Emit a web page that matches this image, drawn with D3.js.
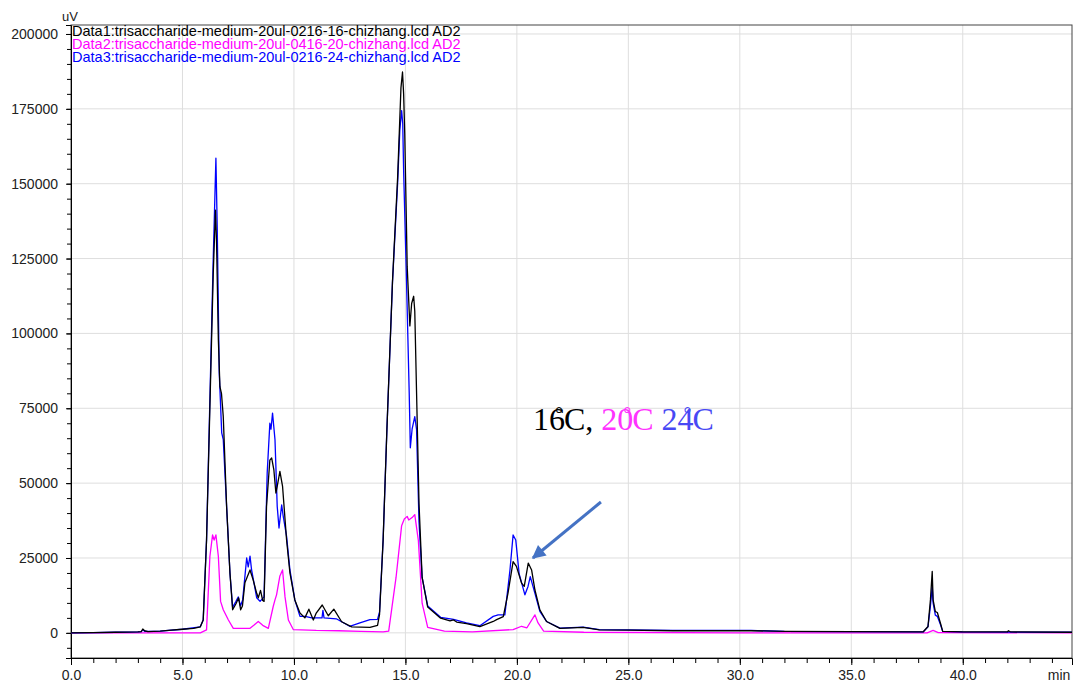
<!DOCTYPE html>
<html>
<head>
<meta charset="utf-8">
<script src="https://cdn.jsdelivr.net/npm/d3@7"></script>
<style>
  body { margin: 0; background: #fff; }
  svg { display: block; font-family: "Liberation Sans", Arial, sans-serif; }
</style>
</head>
<body>
<svg id="chromatogram"></svg>
<script>
// retention time (min) / signal (uV), one pair of arrays per run
var timeBlack = [0, 1.0, 2.0, 3.0, 3.15, 3.22, 3.3, 3.45, 4.0, 4.5, 5.0, 5.5, 5.8, 5.93, 6.08, 6.23, 6.38, 6.48, 6.53, 6.61, 6.68, 6.75, 6.83, 6.98, 7.13, 7.25, 7.4, 7.52, 7.61, 7.69, 7.8, 8.03, 8.17, 8.33, 8.4, 8.5, 8.6, 8.66, 8.77, 8.92, 9.0, 9.1, 9.19, 9.25, 9.37, 9.49, 9.67, 9.82, 10.04, 10.27, 10.49, 10.67, 10.87, 11.0, 11.27, 11.54, 11.79, 12.14, 12.59, 13.41, 13.75, 13.84, 14.0, 14.17, 14.42, 14.65, 14.8, 14.87, 14.92, 14.97, 15.08, 15.2, 15.28, 15.37, 15.42, 15.5, 15.61, 15.75, 16.0, 16.58, 17.0, 17.16, 17.3, 17.74, 18.34, 18.94, 19.09, 19.39, 19.6, 19.83, 19.98, 20.21, 20.33, 20.51, 20.66, 20.81, 21.03, 21.33, 21.93, 22.97, 23.7, 25, 27, 30.5, 32, 35, 38.0, 38.22, 38.44, 38.55, 38.63, 38.67, 38.77, 38.86, 39.0, 39.1, 40, 42.0, 42.05, 42.15, 44.9];
var valBlack = [0, 100, 200, 300, 400, 1300, 700, 400, 600, 900, 1200, 1500, 2000, 4300, 31000, 75500, 120000, 141200, 130000, 97800, 82200, 79900, 72200, 42200, 20000, 7700, 9700, 11700, 7700, 9000, 16700, 21000, 17700, 13200, 11700, 14200, 10800, 10500, 42200, 57700, 58400, 54400, 46700, 48900, 53900, 48900, 31000, 20000, 11000, 6600, 5000, 7900, 4300, 6600, 9300, 5700, 7900, 3700, 2000, 1800, 2500, 6200, 30900, 67900, 117300, 152000, 182000, 187300, 180000, 166700, 122300, 102500, 110000, 112400, 107400, 80300, 43200, 18500, 8600, 4900, 4000, 4300, 3600, 3100, 2100, 3800, 4400, 5400, 13200, 23800, 22200, 16600, 15500, 23300, 21000, 14300, 7700, 3800, 1500, 1800, 1000, 900, 700, 700, 500, 400, 300, 300, 2100, 11000, 20500, 11000, 7100, 6800, 3200, 500, 300, 300, 700, 300, 200];

var timeMagenta = [0, 5.8, 6.08, 6.23, 6.35, 6.42, 6.5, 6.61, 6.71, 6.83, 7.06, 7.28, 8.03, 8.2, 8.4, 8.6, 8.85, 9.07, 9.15, 9.22, 9.37, 9.49, 9.6, 9.75, 9.97, 11, 12, 13, 14.0, 14.25, 14.58, 14.83, 14.95, 15.08, 15.15, 15.3, 15.42, 15.58, 15.75, 16.0, 16.75, 18, 19.83, 20.21, 20.45, 20.81, 20.95, 21.2, 23, 30, 38.4, 38.67, 38.9, 44.9];
var valMagenta = [0, 0, 1000, 25500, 32700, 31000, 32700, 25500, 10500, 7700, 4300, 1500, 1500, 2500, 3800, 2500, 1500, 8800, 11000, 12700, 19000, 21000, 12000, 4300, 1100, 800, 700, 500, 300, 600, 18500, 35800, 38000, 38900, 37700, 38500, 39500, 30900, 9900, 1850, 600, 300, 1100, 2200, 1700, 6000, 3300, 550, 200, 0, 0, 800, 100, 0];

var timeBlue = [0, 1.0, 2.0, 3.0, 3.15, 3.22, 3.3, 4.0, 5.0, 5.8, 5.93, 6.08, 6.23, 6.38, 6.5, 6.56, 6.65, 6.76, 6.83, 6.98, 7.13, 7.25, 7.4, 7.5, 7.6, 7.7, 7.88, 7.95, 8.03, 8.1, 8.33, 8.48, 8.6, 8.66, 8.8, 8.92, 8.97, 9.04, 9.15, 9.25, 9.33, 9.45, 9.52, 9.67, 9.82, 10.04, 10.27, 10.5, 10.8, 11.26, 11.3, 11.35, 11.9, 12.14, 12.5, 12.96, 13.41, 13.75, 13.84, 14.0, 14.17, 14.42, 14.65, 14.75, 14.83, 14.88, 14.92, 15.05, 15.17, 15.22, 15.3, 15.42, 15.5, 15.61, 15.75, 16.0, 16.58, 17.16, 17.74, 18.34, 18.94, 19.16, 19.46, 19.69, 19.83, 19.95, 20.1, 20.36, 20.5, 20.6, 20.81, 21.03, 21.33, 21.93, 22.97, 23.7, 25, 27, 30.5, 32, 35, 38.22, 38.44, 38.55, 38.63, 38.67, 38.77, 38.86, 39.0, 39.1, 40, 44.9];
var valBlue = [0, 100, 200, 300, 400, 1000, 500, 600, 1200, 2000, 4300, 31000, 78000, 125000, 158500, 135000, 86700, 66800, 64500, 42200, 20000, 8500, 10500, 12000, 9000, 11000, 25000, 22000, 25600, 21000, 11700, 10500, 11500, 12000, 53400, 70000, 68000, 73400, 64500, 42200, 35000, 42700, 38900, 32200, 21000, 11000, 5500, 5500, 5000, 5000, 7500, 5000, 4700, 3700, 2200, 3300, 4400, 4500, 7000, 31000, 68000, 117000, 150000, 168000, 174400, 170000, 154400, 117300, 80300, 61800, 68000, 72200, 67900, 37000, 18500, 9000, 5200, 4500, 3300, 2400, 5500, 6000, 6000, 21000, 32700, 31000, 19800, 12700, 15500, 18800, 13200, 7200, 3800, 1600, 1900, 1100, 1000, 800, 800, 500, 400, 300, 2000, 9000, 15500, 10000, 5900, 5500, 2800, 500, 300, 200];

var legendLabels = [
    "Data1:trisaccharide-medium-20ul-0216-16-chizhang.lcd AD2",
    "Data2:trisaccharide-medium-20ul-0416-20-chizhang.lcd AD2",
    "Data3:trisaccharide-medium-20ul-0216-24-chizhang.lcd AD2"
];
var yTicks = [0, 25000, 50000, 75000, 100000, 125000, 150000, 175000, 200000];
var xTicks = [0, 5, 10, 15, 20, 25, 30, 35, 40];

var size = {
    width: 1073,
    height: 684,
    top: 25,
    bottom: 26,
    left: 71,
    right: 1
};

var svg = d3.select("#chromatogram")
    .attr("width", size.width)
    .attr("height", size.height);

var x = d3.scaleLinear()
    .domain([0, 44.9])
    .range([size.left, size.width - size.right]);

var y = d3.scaleLinear()
    .domain([-8400, 203000])
    .range([size.height - size.bottom, size.top]);

// grid
svg.append("g").selectAll("line")
    .data(yTicks)
    .enter().append("line")
    .attr("x1", size.left).attr("x2", size.width - size.right)
    .attr("y1", d => y(d)).attr("y2", d => y(d))
    .attr("stroke", "#dedede");
svg.append("g").selectAll("line")
    .data(xTicks.slice(1))
    .enter().append("line")
    .attr("x1", d => x(d)).attr("x2", d => x(d))
    .attr("y1", size.top).attr("y2", size.height - size.bottom)
    .attr("stroke", "#dedede");

// frame
svg.append("rect")
    .attr("x", size.left).attr("y", size.top)
    .attr("width", size.width - size.right - size.left)
    .attr("height", size.height - size.bottom - size.top)
    .attr("fill", "none")
    .attr("stroke", "#444");

// y axis, minor ticks every 5000
var yMinor = d3.range(-5000, 200001, 5000);
svg.append("g")
    .attr("transform", "translate(" + size.left + ",0)")
    .call(d3.axisLeft(y).tickValues(yMinor).tickSize(4).tickFormat(""))
    .call(g => g.select(".domain").remove());
var yAxis = svg.append("g")
    .attr("transform", "translate(" + size.left + ",0)")
    .call(d3.axisLeft(y).tickValues(yTicks).tickSize(5).tickPadding(8).tickFormat(d3.format("d")));
yAxis.select(".domain").attr("stroke", "#000");
yAxis.selectAll("text").style("font-size", "14px").attr("fill", "#222");

// x axis, minor ticks every 1 min
svg.append("g")
    .attr("transform", "translate(0," + (size.height - size.bottom) + ")")
    .call(d3.axisBottom(x).tickValues(d3.range(0, 45, 1)).tickSize(5).tickFormat(""))
    .call(g => g.select(".domain").remove());
var xAxis = svg.append("g")
    .attr("transform", "translate(0," + (size.height - size.bottom) + ")")
    .call(d3.axisBottom(x).tickValues(xTicks).tickSize(7).tickPadding(5).tickFormat(d3.format(".1f")));
xAxis.select(".domain").attr("stroke", "#000");
xAxis.selectAll("text").style("font-size", "14px").attr("fill", "#222");

svg.append("text")
    .attr("x", 1059).attr("y", 680)
    .attr("text-anchor", "middle")
    .style("font-size", "14px").attr("fill", "#222")
    .text("min");
svg.append("text")
    .attr("x", 62).attr("y", 21)
    .style("font-size", "13px").attr("fill", "#222")
    .text("uV");

// traces
var line = d3.line()
    .x(d => x(d[0]))
    .y(d => y(d[1]));

var traces = [
    { t: timeMagenta, v: valMagenta, color: "#ff00ff" },
    { t: timeBlue, v: valBlue, color: "#0000ff" },
    { t: timeBlack, v: valBlack, color: "#000000" }
];
traces.forEach(function(s) {
    svg.append("path")
        .datum(d3.zip(s.t, s.v))
        .attr("d", line)
        .attr("fill", "none")
        .attr("stroke", s.color)
        .attr("stroke-width", 1.3)
        .attr("stroke-linejoin", "round");
});

// legend
var legendColors = ["#000000", "#ff00ff", "#0000ff"];
svg.append("g").selectAll("text")
    .data(legendLabels)
    .enter().append("text")
    .attr("x", size.left + 1)
    .attr("y", (d, i) => 36 + i * 13.2)
    .style("font-size", "14.5px")
    .attr("fill", (d, i) => legendColors[i])
    .text(d => d);

// annotation
var note = svg.append("text")
    .attr("x", x(20.72)).attr("y", y(67800))
    .style("font-family", "'Liberation Serif', 'Times New Roman', serif")
    .style("font-size", "32px");
[["16", "#000"], ["°", "#000"], ["C, ", "#000"], ["20", "#ff33ff"], ["°", "#ff33ff"], ["C ", "#ff33ff"], ["24", "#4848f4"], ["°", "#4848f4"], ["C", "#4848f4"]]
    .forEach(function(p) {
        var ts = note.append("tspan").attr("fill", p[1]).text(p[0]);
        if (p[0] === "°") ts.attr("dx", -10).attr("dy", -9).style("font-size", "20px");
        else if (p[0].charAt(0) === "C") ts.attr("dx", 1).attr("dy", 9);
    });

// arrow
svg.append("defs").append("marker")
    .attr("id", "head")
    .attr("viewBox", "0 0 10 10")
    .attr("refX", 9).attr("refY", 5)
    .attr("markerWidth", 5).attr("markerHeight", 4.5)
    .attr("orient", "auto")
    .append("path")
    .attr("d", "M0,0 L10,5 L0,10 z")
    .attr("fill", "#4472c4");
svg.append("line")
    .attr("x1", x(23.77)).attr("y1", y(43700))
    .attr("x2", x(20.72)).attr("y2", y(25000))
    .attr("stroke", "#4472c4")
    .attr("stroke-width", 3)
    .attr("marker-end", "url(#head)");
</script>
</body>
</html>
